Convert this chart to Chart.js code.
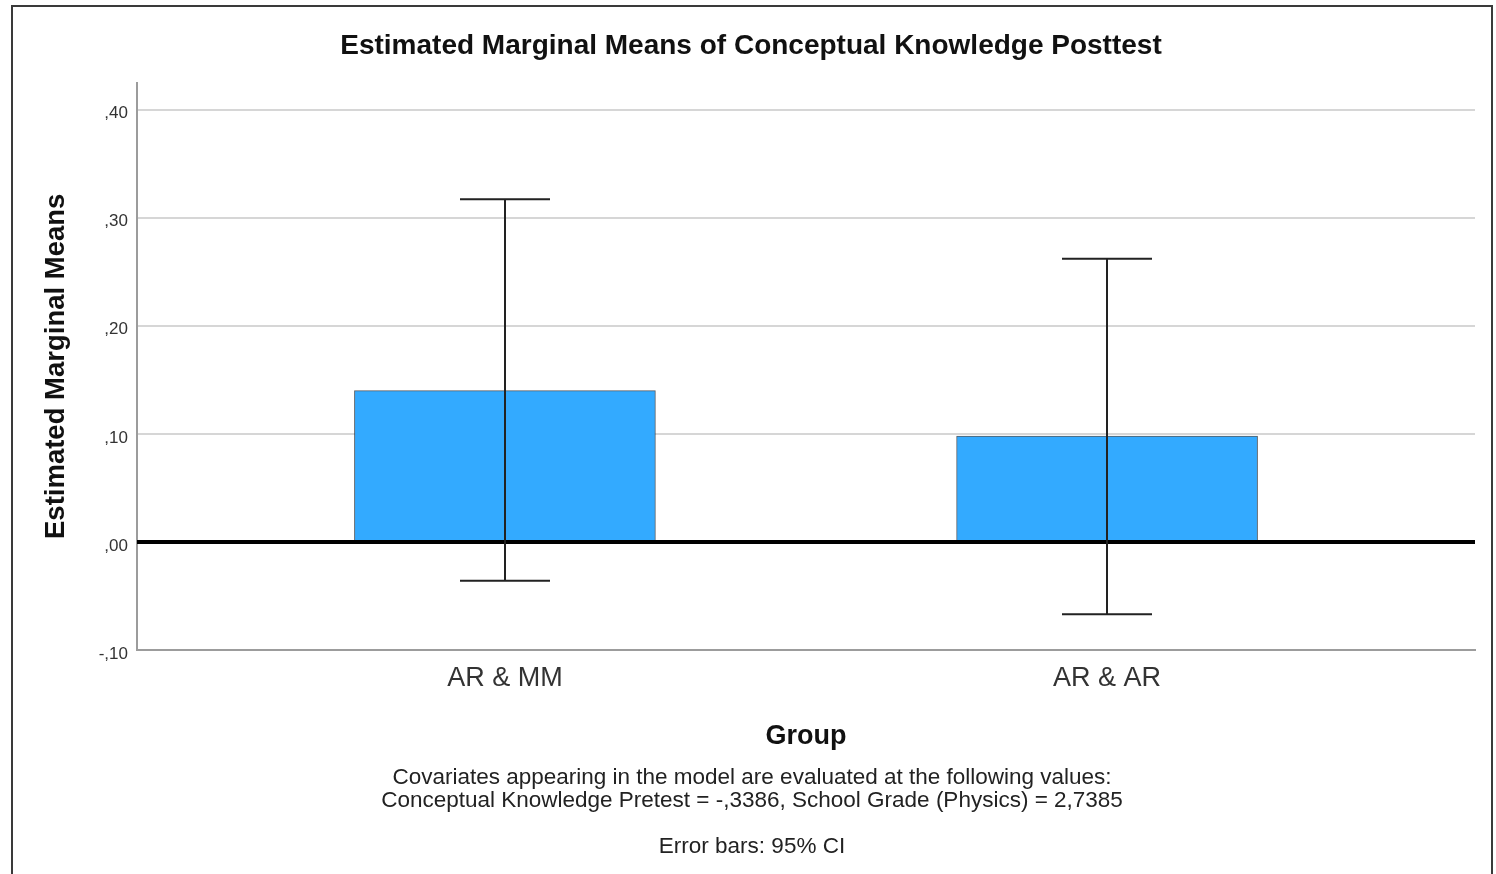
<!DOCTYPE html>
<html>
<head>
<meta charset="utf-8">
<title>Estimated Marginal Means of Conceptual Knowledge Posttest</title>
<script src="https://cdn.jsdelivr.net/npm/chart.js@4.4.0/dist/chart.umd.min.js"></script>
<style>
  html, body { margin: 0; padding: 0; background: #fff; }
  #wrap { position: relative; width: 1496px; height: 874px; overflow: hidden; }
  #frame { position: absolute; left: 11px; top: 5px; width: 1478px; height: 920px; border: 2px solid #3a3a3a; box-sizing: content-box; }
  #c { position: absolute; left: 0; top: 0; }
  .note { position: absolute; left: 12px; width: 1480px; text-align: center;
          font-family: "Liberation Sans", Arial, sans-serif;
          font-size: 22.5px; line-height: 23px; color: #222; white-space: nowrap; }
</style>
</head>
<body>
<div id="wrap">
  <div id="frame"></div>
  <canvas id="c" width="1496" height="874"></canvas>
  <div class="note" style="top:765px">Covariates appearing in the model are evaluated at the following values:<br>Conceptual Knowledge Pretest = -,3386, School Grade (Physics) = 2,7385</div>
  <div class="note" style="top:834px">Error bars: 95% CI</div>
</div>
<script>
// Groups and their estimated marginal means with 95% confidence limits
const groups = ['AR & MM', 'AR & AR'];
const groupPos = [1, 2];
const means = [0.140, 0.098];
const ciLower = [-0.036, -0.067];
const ciUpper = [0.317, 0.262];

// Y axis ticks (SPSS-style decimal comma labels)
const yTickValues = [-0.1, 0, 0.1, 0.2, 0.3, 0.4];
const yTickLabels = ['-,10', ',00', ',10', ',20', ',30', ',40'];

const FONT = '"Liberation Sans", Arial, Helvetica, sans-serif';

// Zero reference line and CI whiskers drawn on top of the bars
const errorBars = {
  id: 'errorBars',
  afterDatasetsDraw(chart) {
    const { ctx, chartArea, scales: { x, y } } = chart;
    ctx.save();
    const y0 = y.getPixelForValue(0);
    ctx.strokeStyle = '#000';
    ctx.lineWidth = 4;
    ctx.beginPath();
    ctx.moveTo(chartArea.left, y0);
    ctx.lineTo(chartArea.right, y0);
    ctx.stroke();

    ctx.strokeStyle = '#222';
    ctx.lineWidth = 2;
    const cap = 45;
    groupPos.forEach((g, i) => {
      const px = Math.round(x.getPixelForValue(g));
      const lo = y.getPixelForValue(ciLower[i]);
      const hi = y.getPixelForValue(ciUpper[i]);
      ctx.beginPath();
      ctx.moveTo(px, lo); ctx.lineTo(px, hi);
      ctx.moveTo(px - cap, hi); ctx.lineTo(px + cap, hi);
      ctx.moveTo(px - cap, lo); ctx.lineTo(px + cap, lo);
      ctx.stroke();
    });
    ctx.restore();
  }
};

new Chart(document.getElementById('c'), {
  type: 'bar',
  data: {
    datasets: [{
      data: groupPos.map((g, i) => ({ x: g, y: means[i] })),
      backgroundColor: '#33aaff',
      borderColor: 'rgba(40,50,60,0.8)',
      borderWidth: 1,
      barThickness: 301
    }]
  },
  options: {
    responsive: false,
    animation: false,
    devicePixelRatio: 1,
    layout: { padding: { left: 27, right: 21, top: 20, bottom: 117 } },
    plugins: {
      legend: { display: false },
      tooltip: { enabled: false },
      title: {
        display: true,
        text: 'Estimated Marginal Means of Conceptual Knowledge Posttest',
        color: '#111',
        font: { family: FONT, size: 28, weight: 'bold' },
        padding: { top: 9, bottom: 20 }
      }
    },
    scales: {
      x: {
        type: 'linear',
        offset: false,
        min: 0.389,
        max: 2.611,
        afterBuildTicks: s => { s.ticks = groupPos.map(v => ({ value: v })); },
        afterFit: s => { s.height = 107; },
        grid: { display: false, drawTicks: false, offset: false },
        border: { display: true, color: '#9c9c9c', width: 2 },
        ticks: {
          callback: (v, i) => groups[i],
          color: '#333',
          font: { family: FONT, size: 27 },
          padding: 12,
          maxRotation: 0
        },
        title: {
          display: true,
          text: 'Group',
          color: '#111',
          font: { family: FONT, size: 27, weight: 'bold' },
          padding: { top: 0, bottom: 4 }
        }
      },
      y: {
        min: -0.1,
        max: 0.425,
        afterBuildTicks: s => { s.ticks = yTickValues.map(v => ({ value: v })); },
        afterFit: s => { s.width = 110; },
        grid: {
          drawTicks: false,
          lineWidth: 2,
          color: c => (c.tick && (c.tick.value === 0 || c.tick.value === -0.1)) ? 'rgba(0,0,0,0)' : '#d6d6d6'
        },
        border: { display: true, color: '#9c9c9c', width: 2 },
        ticks: {
          callback: (v, i) => yTickLabels[i],
          color: '#333',
          font: { family: FONT, size: 17 },
          padding: 9,
          labelOffset: 4
        },
        title: {
          display: true,
          text: 'Estimated Marginal Means',
          color: '#111',
          font: { family: FONT, size: 27.5, weight: 'bold' },
          padding: { top: 13, bottom: 0 }
        }
      }
    }
  },
  plugins: [errorBars]
});
</script>
</body>
</html>
